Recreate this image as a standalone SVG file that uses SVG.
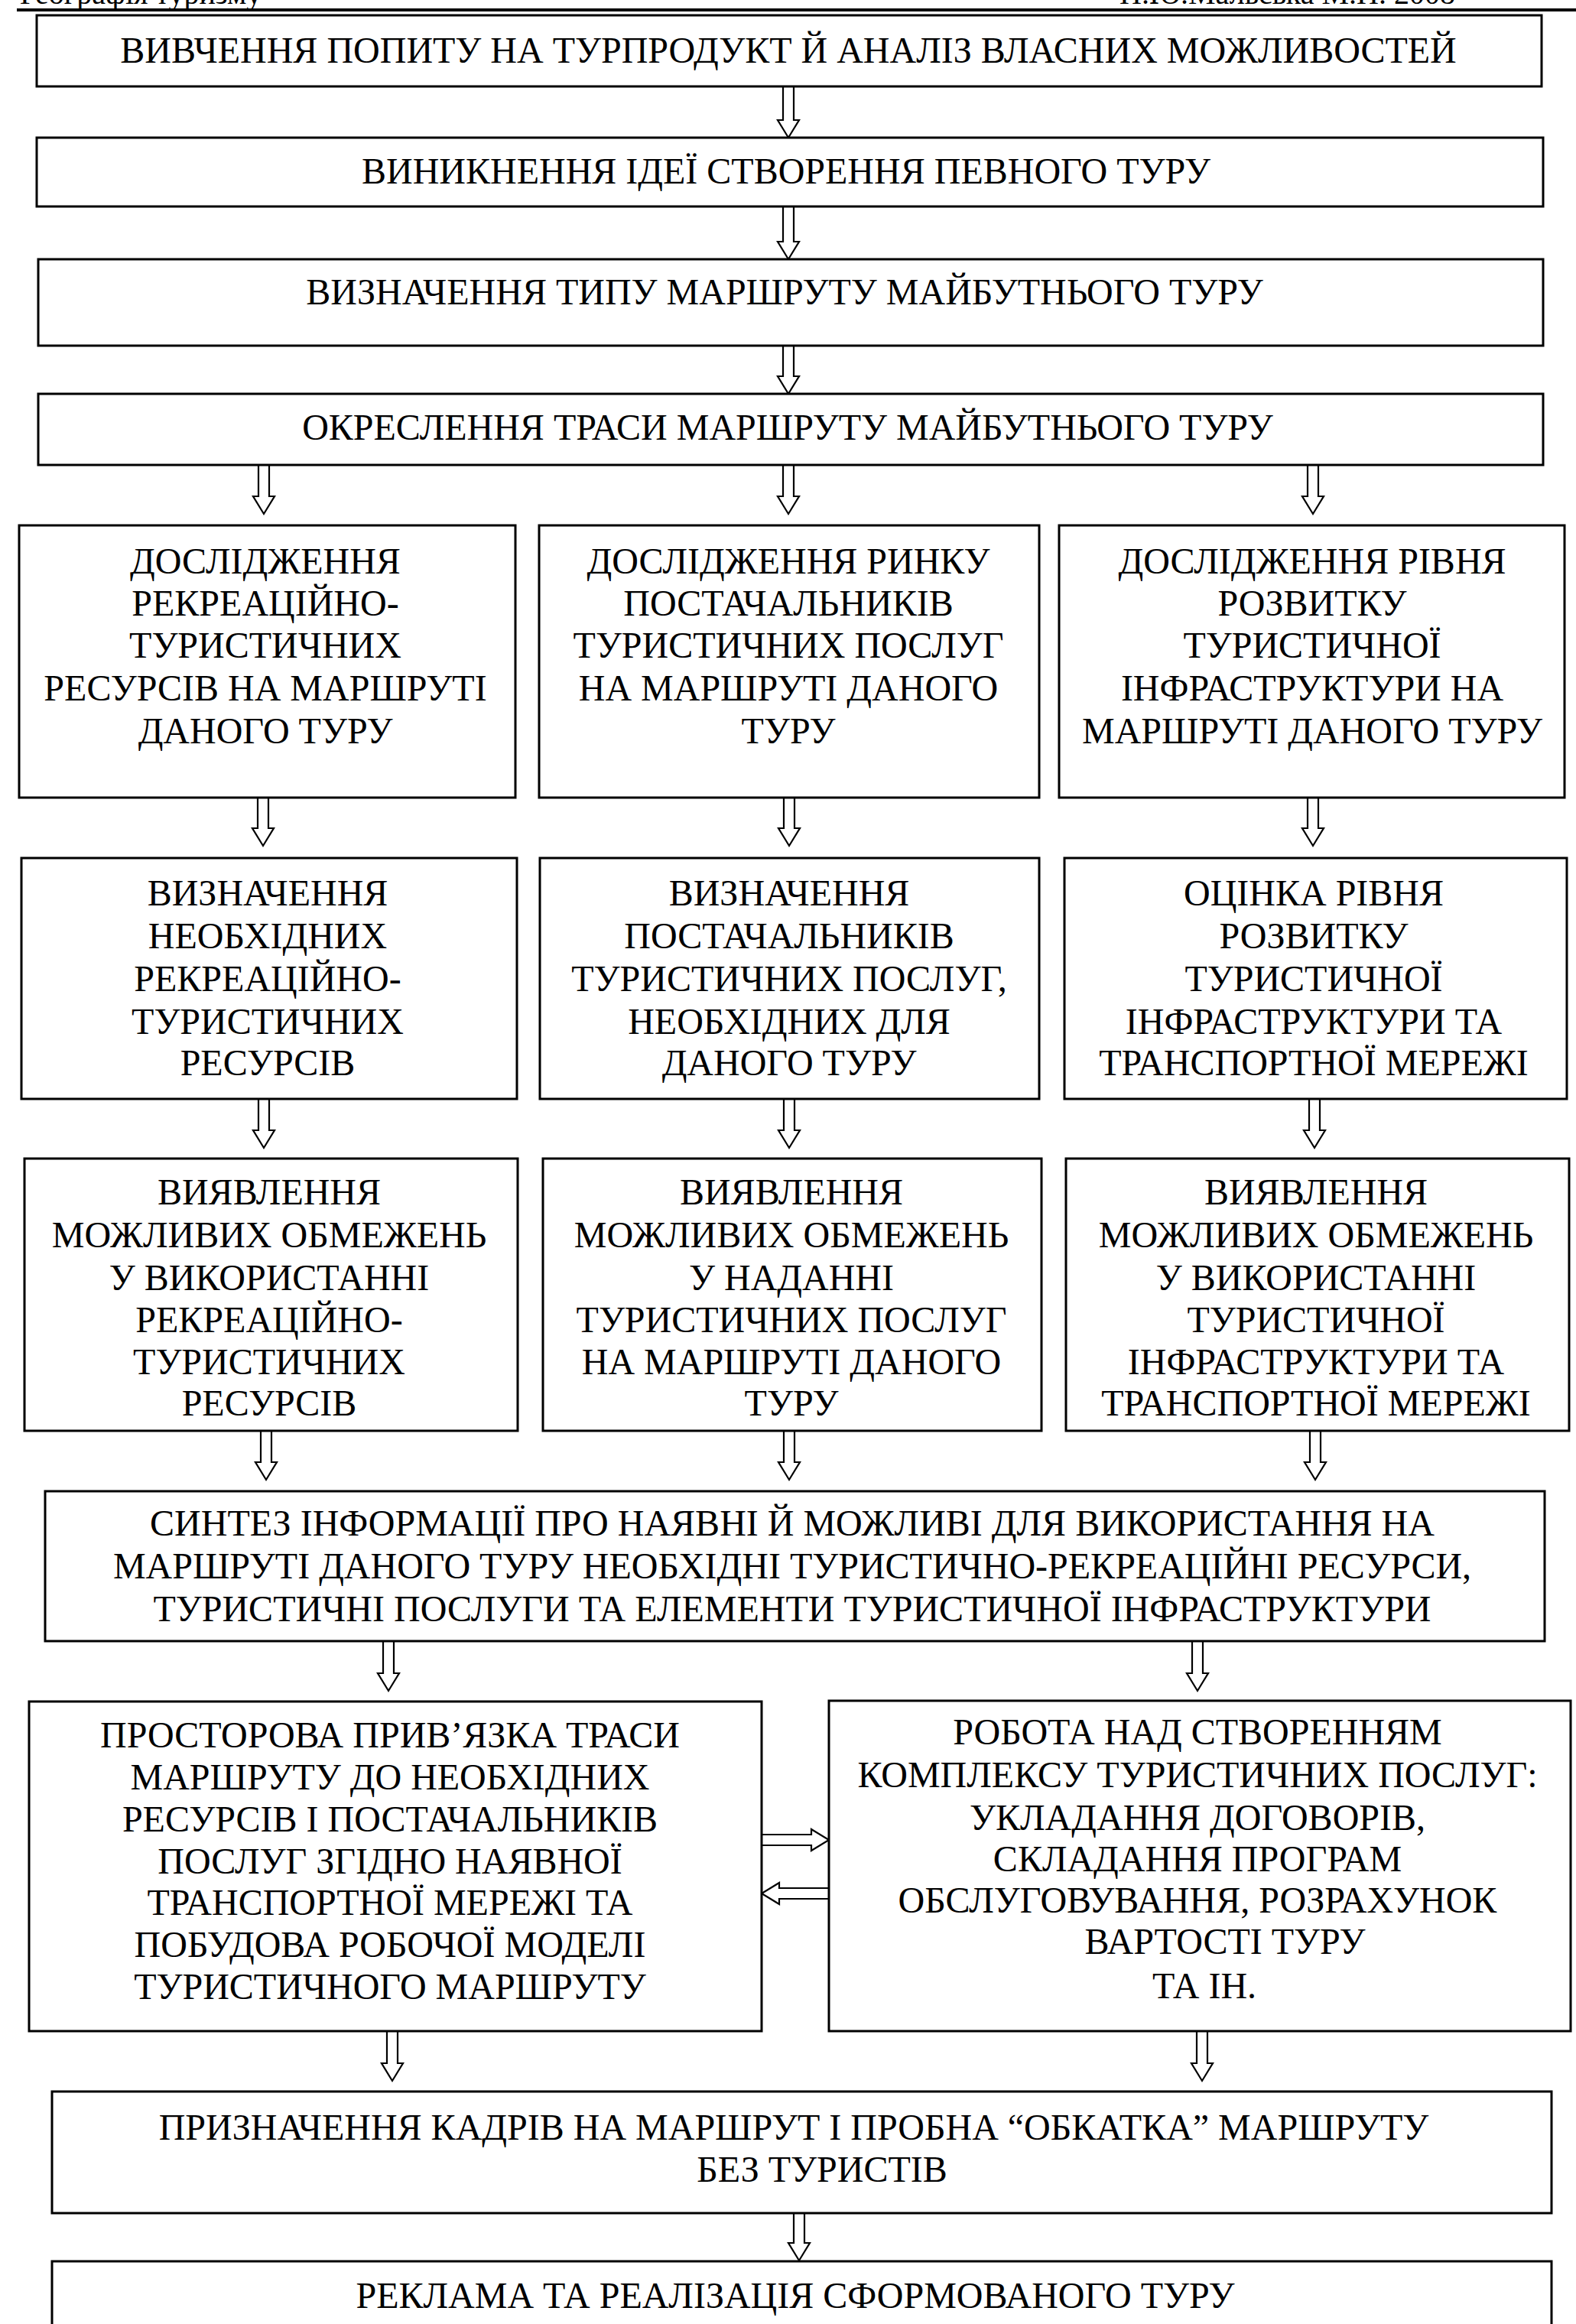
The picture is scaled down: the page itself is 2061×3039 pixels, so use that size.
<svg xmlns="http://www.w3.org/2000/svg" width="2061" height="3039" viewBox="0 0 2061 3039">
<style>
.box{fill:#fff;stroke:#000;stroke-width:3}
.arr{fill:#fff;stroke:#000;stroke-width:2.2;stroke-linejoin:miter}
text{font-family:"Liberation Serif","Times New Roman",serif;font-size:48px;fill:#000}
.c{text-anchor:middle}
.hdr{font-size:40px}
</style>
<rect x="0" y="0" width="2061" height="3039" fill="#fff"/>
<g id="header">
<text class="hdr" x="26" y="5">Географія туризму</text>
<text class="hdr" x="1464" y="5">Н.Ю.Мальська М.П. 2008</text>
<line x1="22" y1="13" x2="2061" y2="13" stroke="#000" stroke-width="4"/>
</g>
<g id="connectors">
<path class="arr" d="M1024,113 V157 H1017 L1031,180 L1045,157 H1038 V113"/>
<path class="arr" d="M1024,270 V316 H1017 L1031,339 L1045,316 H1038 V270"/>
<path class="arr" d="M1024,452 V492 H1017 L1031,515 L1045,492 H1038 V452"/>
<path class="arr" d="M338,608 V649 H331 L345,672 L359,649 H352 V608"/>
<path class="arr" d="M1024,608 V649 H1017 L1031,672 L1045,649 H1038 V608"/>
<path class="arr" d="M1710,608 V649 H1703 L1717,672 L1731,649 H1724 V608"/>
<path class="arr" d="M337,1043 V1083 H330 L344,1106 L358,1083 H351 V1043"/>
<path class="arr" d="M1025,1043 V1083 H1018 L1032,1106 L1046,1083 H1039 V1043"/>
<path class="arr" d="M1710,1043 V1083 H1703 L1717,1106 L1731,1083 H1724 V1043"/>
<path class="arr" d="M338,1437 V1478 H331 L345,1501 L359,1478 H352 V1437"/>
<path class="arr" d="M1025,1437 V1478 H1018 L1032,1501 L1046,1478 H1039 V1437"/>
<path class="arr" d="M1712,1437 V1478 H1705 L1719,1501 L1733,1478 H1726 V1437"/>
<path class="arr" d="M341,1871 V1912 H334 L348,1935 L362,1912 H355 V1871"/>
<path class="arr" d="M1025,1871 V1912 H1018 L1032,1935 L1046,1912 H1039 V1871"/>
<path class="arr" d="M1713,1871 V1912 H1706 L1720,1935 L1734,1912 H1727 V1871"/>
<path class="arr" d="M501,2146 V2188 H494 L508,2211 L522,2188 H515 V2146"/>
<path class="arr" d="M1559,2146 V2188 H1552 L1566,2211 L1580,2188 H1573 V2146"/>
<path class="arr" d="M506,2656 V2698 H499 L513,2721 L527,2698 H520 V2656"/>
<path class="arr" d="M1565,2656 V2698 H1558 L1572,2721 L1586,2698 H1579 V2656"/>
<path class="arr" d="M1038,2894 V2933 H1031 L1045,2956 L1059,2933 H1052 V2894"/>
<path class="arr" d="M996,2399 H1061 V2392 L1084,2406 L1061,2420 V2413 H996"/>
<path class="arr" d="M1084,2469 H1019 V2462 L996,2476 L1019,2490 V2483 H1084"/>
</g>
<g id="n1">
<rect class="box" x="48" y="20" width="1968" height="93"/>
<text class="c" x="1031" y="82">ВИВЧЕННЯ ПОПИТУ НА ТУРПРОДУКТ Й АНАЛІЗ ВЛАСНИХ МОЖЛИВОСТЕЙ</text>
</g>
<g id="n2">
<rect class="box" x="48" y="180" width="1970" height="90"/>
<text class="c" x="1028" y="240">ВИНИКНЕННЯ ІДЕЇ СТВОРЕННЯ ПЕВНОГО ТУРУ</text>
</g>
<g id="n3">
<rect class="box" x="50" y="339" width="1968" height="113"/>
<text class="c" x="1026" y="398">ВИЗНАЧЕННЯ ТИПУ МАРШРУТУ МАЙБУТНЬОГО ТУРУ</text>
</g>
<g id="n4">
<rect class="box" x="50" y="515" width="1968" height="93"/>
<text class="c" x="1030" y="575">ОКРЕСЛЕННЯ ТРАСИ МАРШРУТУ МАЙБУТНЬОГО ТУРУ</text>
</g>
<g id="n5">
<rect class="box" x="25" y="687" width="649" height="356"/>
<text class="c" x="347"><tspan x="347" y="750">ДОСЛІДЖЕННЯ</tspan><tspan x="347" y="805">РЕКРЕАЦІЙНО-</tspan><tspan x="347" y="860">ТУРИСТИЧНИХ</tspan><tspan x="347" y="916">РЕСУРСІВ НА МАРШРУТІ</tspan><tspan x="347" y="972">ДАНОГО ТУРУ</tspan></text>
</g>
<g id="n6">
<rect class="box" x="705" y="687" width="654" height="356"/>
<text class="c" x="1031"><tspan x="1031" y="750">ДОСЛІДЖЕННЯ РИНКУ</tspan><tspan x="1031" y="805">ПОСТАЧАЛЬНИКІВ</tspan><tspan x="1031" y="860">ТУРИСТИЧНИХ ПОСЛУГ</tspan><tspan x="1031" y="916">НА МАРШРУТІ ДАНОГО</tspan><tspan x="1031" y="972">ТУРУ</tspan></text>
</g>
<g id="n7">
<rect class="box" x="1385" y="687" width="661" height="356"/>
<text class="c" x="1716"><tspan x="1716" y="750">ДОСЛІДЖЕННЯ РІВНЯ</tspan><tspan x="1716" y="805">РОЗВИТКУ</tspan><tspan x="1716" y="860">ТУРИСТИЧНОЇ</tspan><tspan x="1716" y="916">ІНФРАСТРУКТУРИ НА</tspan><tspan x="1716" y="972">МАРШРУТІ ДАНОГО ТУРУ</tspan></text>
</g>
<g id="n8">
<rect class="box" x="28" y="1122" width="648" height="315"/>
<text class="c" x="350"><tspan x="350" y="1184">ВИЗНАЧЕННЯ</tspan><tspan x="350" y="1240">НЕОБХІДНИХ</tspan><tspan x="350" y="1296">РЕКРЕАЦІЙНО-</tspan><tspan x="350" y="1352">ТУРИСТИЧНИХ</tspan><tspan x="350" y="1406">РЕСУРСІВ</tspan></text>
</g>
<g id="n9">
<rect class="box" x="706" y="1122" width="653" height="315"/>
<text class="c" x="1032"><tspan x="1032" y="1184">ВИЗНАЧЕННЯ</tspan><tspan x="1032" y="1240">ПОСТАЧАЛЬНИКІВ</tspan><tspan x="1032" y="1296">ТУРИСТИЧНИХ ПОСЛУГ,</tspan><tspan x="1032" y="1352">НЕОБХІДНИХ ДЛЯ</tspan><tspan x="1032" y="1406">ДАНОГО ТУРУ</tspan></text>
</g>
<g id="n10">
<rect class="box" x="1392" y="1122" width="657" height="315"/>
<text class="c" x="1718"><tspan x="1718" y="1184">ОЦІНКА РІВНЯ</tspan><tspan x="1718" y="1240">РОЗВИТКУ</tspan><tspan x="1718" y="1296">ТУРИСТИЧНОЇ</tspan><tspan x="1718" y="1352">ІНФРАСТРУКТУРИ ТА</tspan><tspan x="1718" y="1406">ТРАНСПОРТНОЇ МЕРЕЖІ</tspan></text>
</g>
<g id="n11">
<rect class="box" x="32" y="1515" width="645" height="356"/>
<text class="c" x="352"><tspan x="352" y="1575">ВИЯВЛЕННЯ</tspan><tspan x="352" y="1631">МОЖЛИВИХ ОБМЕЖЕНЬ</tspan><tspan x="352" y="1687">У ВИКОРИСТАННІ</tspan><tspan x="352" y="1742">РЕКРЕАЦІЙНО-</tspan><tspan x="352" y="1797">ТУРИСТИЧНИХ</tspan><tspan x="352" y="1851">РЕСУРСІВ</tspan></text>
</g>
<g id="n12">
<rect class="box" x="710" y="1515" width="652" height="356"/>
<text class="c" x="1035"><tspan x="1035" y="1575">ВИЯВЛЕННЯ</tspan><tspan x="1035" y="1631">МОЖЛИВИХ ОБМЕЖЕНЬ</tspan><tspan x="1035" y="1687">У НАДАННІ</tspan><tspan x="1035" y="1742">ТУРИСТИЧНИХ ПОСЛУГ</tspan><tspan x="1035" y="1797">НА МАРШРУТІ ДАНОГО</tspan><tspan x="1035" y="1851">ТУРУ</tspan></text>
</g>
<g id="n13">
<rect class="box" x="1394" y="1515" width="658" height="356"/>
<text class="c" x="1721"><tspan x="1721" y="1575">ВИЯВЛЕННЯ</tspan><tspan x="1721" y="1631">МОЖЛИВИХ ОБМЕЖЕНЬ</tspan><tspan x="1721" y="1687">У ВИКОРИСТАННІ</tspan><tspan x="1721" y="1742">ТУРИСТИЧНОЇ</tspan><tspan x="1721" y="1797">ІНФРАСТРУКТУРИ ТА</tspan><tspan x="1721" y="1851">ТРАНСПОРТНОЇ МЕРЕЖІ</tspan></text>
</g>
<g id="n14">
<rect class="box" x="59" y="1950" width="1961" height="196"/>
<text class="c" x="1036"><tspan x="1036" y="2008">СИНТЕЗ ІНФОРМАЦІЇ ПРО НАЯВНІ Й МОЖЛИВІ ДЛЯ ВИКОРИСТАННЯ НА</tspan><tspan x="1036" y="2064">МАРШРУТІ ДАНОГО ТУРУ НЕОБХІДНІ ТУРИСТИЧНО-РЕКРЕАЦІЙНІ РЕСУРСИ,</tspan><tspan x="1036" y="2120">ТУРИСТИЧНІ ПОСЛУГИ ТА ЕЛЕМЕНТИ ТУРИСТИЧНОЇ ІНФРАСТРУКТУРИ</tspan></text>
</g>
<g id="n15">
<rect class="box" x="38" y="2225" width="958" height="431"/>
<text class="c" x="510"><tspan x="510" y="2285">ПРОСТОРОВА ПРИВ’ЯЗКА ТРАСИ</tspan><tspan x="510" y="2340">МАРШРУТУ ДО НЕОБХІДНИХ</tspan><tspan x="510" y="2395">РЕСУРСІВ І ПОСТАЧАЛЬНИКІВ</tspan><tspan x="510" y="2450">ПОСЛУГ ЗГІДНО НАЯВНОЇ</tspan><tspan x="510" y="2504">ТРАНСПОРТНОЇ МЕРЕЖІ ТА</tspan><tspan x="510" y="2559">ПОБУДОВА РОБОЧОЇ МОДЕЛІ</tspan><tspan x="510" y="2614">ТУРИСТИЧНОГО МАРШРУТУ</tspan></text>
</g>
<g id="n16">
<rect class="box" x="1084" y="2224" width="970" height="432"/>
<text class="c" x="1566"><tspan x="1566" y="2281">РОБОТА НАД СТВОРЕННЯМ</tspan><tspan x="1566" y="2337">КОМПЛЕКСУ ТУРИСТИЧНИХ ПОСЛУГ:</tspan><tspan x="1566" y="2393">УКЛАДАННЯ ДОГОВОРІВ,</tspan><tspan x="1566" y="2447">СКЛАДАННЯ ПРОГРАМ</tspan><tspan x="1566" y="2501">ОБСЛУГОВУВАННЯ, РОЗРАХУНОК</tspan><tspan x="1602" y="2555">ВАРТОСТІ ТУРУ</tspan><tspan x="1575" y="2613">ТА ІН.</tspan></text>
</g>
<g id="n17">
<rect class="box" x="68" y="2735" width="1961" height="159"/>
<text class="c" x="1038"><tspan x="1038" y="2798">ПРИЗНАЧЕННЯ КАДРІВ НА МАРШРУТ І ПРОБНА “ОБКАТКА” МАРШРУТУ</tspan><tspan x="1075" y="2853">БЕЗ ТУРИСТІВ</tspan></text>
</g>
<g id="n18">
<rect class="box" x="68" y="2957" width="1961" height="120"/>
<text class="c" x="1040" y="3018">РЕКЛАМА ТА РЕАЛІЗАЦІЯ СФОРМОВАНОГО ТУРУ</text>
</g>
</svg>
